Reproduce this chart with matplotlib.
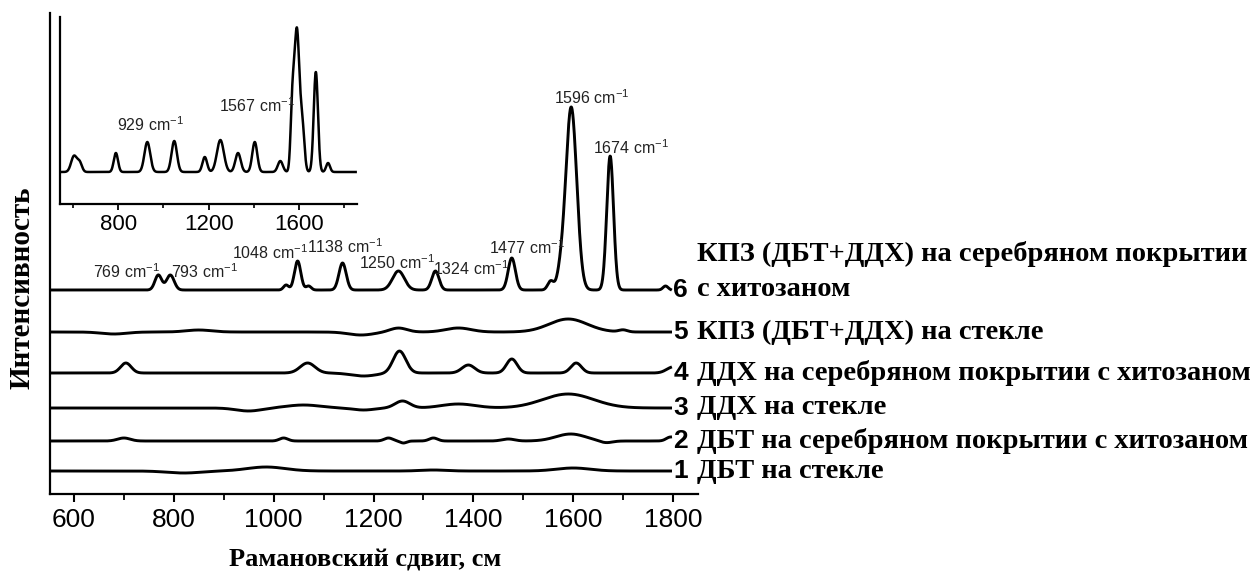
import numpy as np
import matplotlib
matplotlib.use("Agg")
import matplotlib.pyplot as plt

plt.rcParams["font.family"] = "Liberation Sans"
plt.rcParams["mathtext.fontset"] = "custom"
plt.rcParams["mathtext.rm"] = "Liberation Sans"
plt.rcParams["mathtext.it"] = "Liberation Sans"

# spectra: baseline offset + list of peaks (centre cm-1, height, fwhm)
OFFSETS = [23, 53, 86, 121, 162, 204]
PEAKS_1 = [(985, 4, 90), (820, -2, 80), (1320, 1, 60), (1600, 3, 80)]
PEAKS_2 = [(700, 3, 30), (1020, 3, 20), (1230, 3, 20), (1260, -2, 15), (1320, 3, 20),
           (1470, 2, 30), (1595, 7, 70), (1665, -2, 30), (1795, 4, 20)]
PEAKS_3 = [(950, -3, 60), (1060, 3, 80), (1180, -2, 50), (1258, 7, 35), (1370, 4, 80), (1590, 14, 120)]
PEAKS_4 = [(704, 10, 25), (1068, 10, 35), (1180, -3, 60), (1252, 22, 30), (1390, 8, 30),
           (1477, 14, 25), (1606, 10, 25), (1800, 6, 30)]
PEAKS_5 = [(680, -2, 60), (850, 2, 60), (1175, -3, 60), (1250, 4, 40), (1370, 4, 60),
           (1590, 13, 90), (1700, 2, 20)]
PEAKS_6 = [(769, 15, 16), (793, 15, 18), (1025, 5, 12), (1048, 29, 15), (1070, 4, 12),
           (1138, 27, 17), (1250, 19, 28), (1324, 19, 17), (1477, 32, 17), (1555, 9, 14),
           (1574, 12, 16), (1596, 183, 26), (1674, 134, 16), (1785, 4, 12)]
ALL_PEAKS = [PEAKS_1, PEAKS_2, PEAKS_3, PEAKS_4, PEAKS_5, PEAKS_6]

INSET_OFFSET = 32
INSET_PEAKS = [(605, 16, 30), (630, 9, 24), (790, 19, 22), (929, 30, 30), (1048, 31, 28),
               (1183, 15, 24), (1252, 32, 36), (1330, 19, 28), (1404, 30, 26), (1517, 11, 26),
               (1570, 60, 18), (1590, 141, 26), (1614, 45, 22), (1674, 100, 22), (1728, 9, 20)]

# peak labels: text, x, y (main axes)
MAIN_LABELS = [("769", 706, 222), ("793", 862, 222), ("1048", 993, 241), ("1138", 1143, 247),
               ("1250", 1247, 231), ("1324", 1395, 225), ("1477", 1507, 246),
               ("1596", 1638, 396), ("1674", 1716, 346)]
INSET_LABELS = [("929", 945, 79), ("1567", 1412, 98)]

NUMBERS = ["1", "2", "3", "4", "5", "6"]
DESCRIPTIONS = ["ДБТ на стекле",
                "ДБТ на серебряном покрытии с хитозаном",
                "ДДХ на стекле",
                "ДДХ на серебряном покрытии с хитозаном",
                "КПЗ (ДБТ+ДДХ) на стекле",
                "с хитозаном"]
TOP_LINE = "КПЗ (ДБТ+ДДХ) на серебряном покрытии"


def spectrum(x, offset, peaks):
    y = np.full_like(x, float(offset))
    for c, h, w in peaks:
        s = w / 2.355
        y += h * np.exp(-0.5 * ((x - c) / s) ** 2)
    return y


fig = plt.figure(figsize=(12.54, 5.78), dpi=100)
ax = fig.add_axes([50 / 1254, 84 / 578, 648 / 1254, 481 / 578])

x = np.linspace(552, 1795, 2000)
for off, pk in zip(OFFSETS, ALL_PEAKS):
    ax.plot(x, spectrum(x, off, pk), color="black", lw=2.1)

ax.set_xlim(552, 1850)
ax.set_ylim(0, 481)
ax.spines["top"].set_visible(False)
ax.spines["right"].set_visible(False)
for s in ["left", "bottom"]:
    ax.spines[s].set_linewidth(1.6)
ax.set_yticks([])
ax.set_xticks(np.arange(600, 1801, 200))
ax.set_xticks(np.arange(700, 1801, 200), minor=True)
ax.tick_params(axis="x", which="major", direction="out", length=6, width=1.5, labelsize=19, pad=4)
ax.tick_params(axis="x", which="minor", direction="out", length=4, width=1.3)

for t, xx, yy in MAIN_LABELS:
    ax.text(xx, yy, t + " cm$^{-1}$", fontsize=11.5, color="#222222", ha="center", va="center")

for n, d, off in zip(NUMBERS, DESCRIPTIONS, OFFSETS):
    ax.text(1815, off, n, fontsize=19, fontweight="bold", ha="center", va="center", clip_on=False)
    ax.text(1848, off, d, fontsize=20.5, fontweight="bold", family="Liberation Serif",
            ha="left", va="center", clip_on=False)
ax.text(1848, 240, TOP_LINE, fontsize=20.5, fontweight="bold", family="Liberation Serif",
        ha="left", va="center", clip_on=False)

# inset
ins = fig.add_axes([60 / 1254, 374 / 578, 297 / 1254, 187 / 578])
xi = np.linspace(545, 1850, 2000)
ins.plot(xi, spectrum(xi, INSET_OFFSET, INSET_PEAKS), color="black", lw=1.8)
ins.set_xlim(543, 1856)
ins.set_ylim(0, 187)
ins.patch.set_alpha(0)
ins.spines["top"].set_visible(False)
ins.spines["right"].set_visible(False)
for s in ["left", "bottom"]:
    ins.spines[s].set_linewidth(1.6)
ins.set_yticks([])
ins.set_xticks([800, 1200, 1600])
ins.set_xticks([600, 1000, 1400, 1800], minor=True)
ins.tick_params(axis="x", which="major", direction="out", length=4, width=1.3, labelsize=16, pad=3)
ins.tick_params(axis="x", which="minor", direction="out", length=3, width=1.2)
for t, xx, yy in INSET_LABELS:
    ins.text(xx, yy, t + " cm$^{-1}$", fontsize=11.5, color="#222222", ha="center", va="center")

fig.text(365 / 1254, 1 - 560 / 578, "Рамановский сдвиг, см", fontsize=19, fontweight="bold",
         family="Liberation Serif", ha="center", va="center")
fig.text(22 / 1254, 1 - 288 / 578, "Интенсивность", fontsize=21, fontweight="bold",
         family="Liberation Serif", ha="center", va="center", rotation=90)

fig.savefig("out.png", dpi=100)
